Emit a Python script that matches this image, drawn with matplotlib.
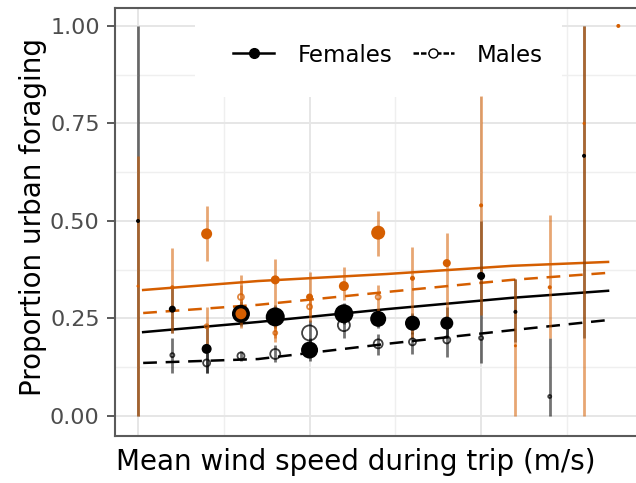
import numpy as np
import matplotlib
matplotlib.use("Agg")
import matplotlib.pyplot as plt
from matplotlib.lines import Line2D
from matplotlib.patches import Rectangle

nan = np.nan

# Wind-speed bins (m/s)
wind_bins = np.arange(1, 16)

# Proportion of urban foraging per wind bin, with 95% CI and marker size (sample size)
# Black group, females
bf_prop = [0.50, 0.274, 0.172, 0.262, 0.254, 0.169, 0.262, 0.249, 0.238, 0.238, 0.359, 0.267, nan, 0.667, nan]
bf_lo   = [0.00, 0.213, 0.110, 0.230, 0.225, 0.140, 0.235, 0.225, 0.210, 0.200, 0.300, 0.190, nan, 0.200, nan]
bf_hi   = [1.00, 0.330, 0.230, 0.295, 0.285, 0.200, 0.290, 0.275, 0.265, 0.280, 0.500, 0.350, nan, 1.000, nan]
bf_n    = [4, 7, 10, 18, 19, 17, 19, 16, 15, 13, 8, 4, nan, 4, nan]

# Black group, males
bm_prop = [nan, 0.156, 0.136, 0.154, 0.159, 0.213, 0.233, 0.185, 0.190, 0.195, 0.200, nan, 0.05, nan, nan]
bm_lo   = [nan, 0.110, 0.110, 0.141, 0.138, 0.185, 0.200, 0.156, 0.160, 0.151, 0.136, nan, 0.00, nan, nan]
bm_hi   = [nan, 0.200, 0.162, 0.167, 0.182, 0.245, 0.246, 0.210, 0.215, 0.246, 0.297, nan, 0.20, nan, nan]
bm_n    = [nan, 4, 7, 7, 10, 15, 12, 9, 7, 7, 4, nan, 3, nan, nan]

# Orange group, females
of_prop = [0.333, 0.330, 0.467, 0.262, 0.349, 0.305, 0.333, 0.470, 0.353, 0.392, 0.540, 0.180, 0.330, 0.750, 1.00]
of_lo   = [0.000, 0.213, 0.397, 0.226, 0.200, 0.241, 0.297, 0.410, 0.200, 0.250, 0.260, 0.000, 0.200, 0.000, 1.00]
of_hi   = [0.667, 0.431, 0.538, 0.362, 0.403, 0.369, 0.382, 0.526, 0.433, 0.470, 0.820, 0.350, 0.515, 1.000, 1.00]
of_n    = [3, 4, 11, 11, 9, 7, 10, 14, 5, 8, 4, 3, 4, 3, 4]

# Orange group, males
om_prop = [nan, nan, 0.230, 0.305, 0.213, 0.280, nan, 0.305, nan, nan, nan, nan, nan, nan, nan]
om_lo   = [nan, nan, 0.177, 0.270, 0.190, 0.260, nan, 0.264, nan, nan, nan, nan, nan, nan, nan]
om_hi   = [nan, nan, 0.280, 0.335, 0.240, 0.300, nan, 0.335, nan, nan, nan, nan, nan, nan, nan]
om_n    = [nan, nan, 4, 6, 4, 5, nan, 5, nan, nan, nan, nan, nan, nan, nan]

# Fitted model predictions
fit_wind = [1.15, 4.5, 8.25, 11.9, 14.7]
fit_orange_f = [0.323, 0.346, 0.364, 0.385, 0.395]
fit_orange_m = [0.264, 0.285, 0.318, 0.349, 0.367]
fit_black_f = [0.215, 0.241, 0.274, 0.303, 0.321]
fit_black_m = [0.136, 0.146, 0.185, 0.220, 0.246]

ORANGE = "#D55E00"
BLACK = "#000000"

W, H = 636, 483
fig = plt.figure(figsize=(W / 100, H / 100), dpi=100)
ax = fig.add_axes([115 / W, (H - 436) / H, (700 - 115) / W, (436 - 8) / H])

ax.set_xlim(0.329, 17.38)
ax.set_ylim(-0.0513, 1.046)

# grid
ax.set_axisbelow(True)
ax.set_xticks([1, 6, 11, 16])
ax.set_xticks([3.5, 8.5, 13.5], minor=True)
ax.set_yticks([0, 0.25, 0.5, 0.75, 1.0])
ax.set_yticks([0.125, 0.375, 0.625, 0.875], minor=True)
ax.set_yticklabels(["0.00", "0.25", "0.50", "0.75", "1.00"])
ax.set_xticklabels([])
ax.grid(which="major", color="#E6E6E6", linewidth=1.4)
ax.grid(which="minor", color="#EFEFEF", linewidth=1.0)
ax.tick_params(axis="x", which="both", length=0)
ax.tick_params(axis="y", which="minor", length=0)
ax.tick_params(axis="y", which="major", length=6, width=1.3, color="#4D4D4D",
               labelsize=16, labelcolor="#4D4D4D", pad=5)

for side in ["left", "top", "bottom"]:
    ax.spines[side].set_color("#5A5A5A")
    ax.spines[side].set_linewidth(1.5)
ax.spines["right"].set_visible(False)

# legend background panel
ax.add_patch(Rectangle((195 / W, (H - 97) / H), (562 - 195) / W, (97 - 8) / H,
                       transform=fig.transFigure, facecolor="white",
                       edgecolor="none", zorder=1))

# fitted curves
ax.plot(fit_wind, fit_orange_f, color=ORANGE, lw=1.8, zorder=2)
ax.plot(fit_wind, fit_orange_m, color=ORANGE, lw=1.8, dashes=(5.5, 3.5), zorder=2)
ax.plot(fit_wind, fit_black_f, color=BLACK, lw=1.8, zorder=2)
ax.plot(fit_wind, fit_black_m, color=BLACK, lw=1.8, dashes=(5.5, 3.5), zorder=2)


def draw_group(prop, lo, hi, n, color, filled, z):
    prop = np.asarray(prop, float)
    lo = np.asarray(lo, float)
    hi = np.asarray(hi, float)
    n = np.asarray(n, float)
    ok = ~np.isnan(prop)
    x = wind_bins[ok]
    ax.vlines(x, lo[ok], hi[ok], color=color, alpha=0.55, lw=2.0, zorder=z)
    sizes = (0.72 * n[ok]) ** 2
    if filled:
        ax.scatter(x, prop[ok], s=sizes, color=color, edgecolors="none", zorder=z + 2)
    else:
        ax.scatter(x, prop[ok], s=sizes, facecolors="none", edgecolors=color,
                   linewidths=1.3, alpha=0.75, zorder=z + 2)


draw_group(bm_prop, bm_lo, bm_hi, bm_n, BLACK, False, 3)
draw_group(bf_prop, bf_lo, bf_hi, bf_n, BLACK, True, 3)
draw_group(om_prop, om_lo, om_hi, om_n, ORANGE, False, 3.5)
draw_group(of_prop, of_lo, of_hi, of_n, ORANGE, True, 3.5)

# legend
handles = [
    Line2D([], [], color=BLACK, lw=1.8, marker="o", markersize=7,
           markerfacecolor=BLACK, markeredgecolor=BLACK),
    Line2D([], [], color=BLACK, lw=1.8, linestyle="--", dashes=(2.2, 0.8),
           marker="o", markersize=6.5, markerfacecolor="white", markeredgecolor=BLACK),
]
fig.legend(handles, ["Females", "Males"], ncol=2, loc="center",
           bbox_to_anchor=(388 / W, 1 - 55 / H), frameon=False, fontsize=16.5,
           handlelength=1.8, handletextpad=1.0, columnspacing=0.9)

fig.text(356 / W, 1 - 462 / H, "Mean wind speed during trip (m/s)",
         ha="center", va="center", fontsize=20, color="black")
fig.text(33 / W, 1 - 217 / H, "Proportion urban foraging", rotation=90,
         ha="center", va="center", fontsize=20, color="black")

fig.savefig("out.png", dpi=100)
